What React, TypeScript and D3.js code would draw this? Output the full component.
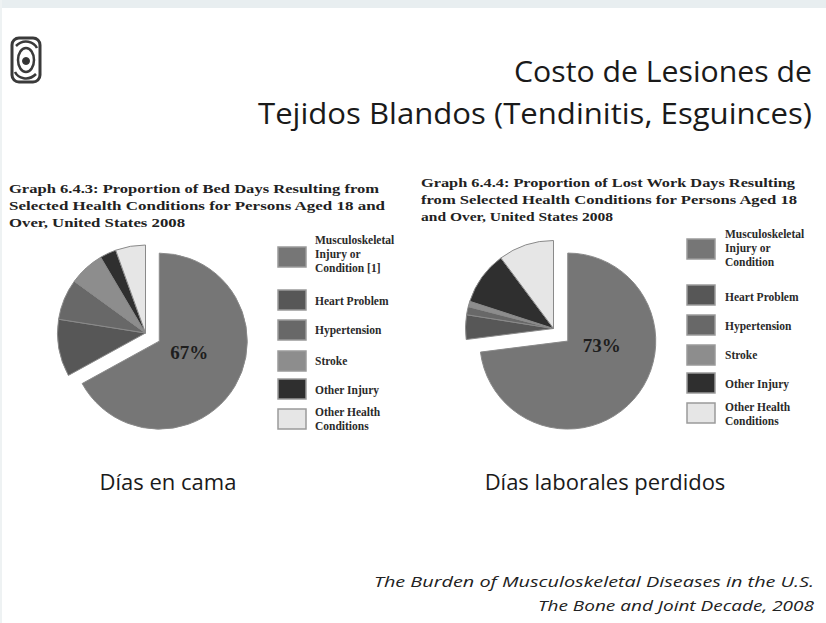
import React from "react";
import * as d3 from "d3";

const categories = [
  "Musculoskeletal Injury or Condition",
  "Heart Problem",
  "Hypertension",
  "Stroke",
  "Other Injury",
  "Other Health Conditions",
];
const bedDays = [67, 10.5, 7.5, 6.5, 3, 5.5];
const lostWorkDays = [73, 4.5, 1.5, 1, 9.8, 10.2];
const colors = ["#767676", "#575757", "#686868", "#8d8d8d", "#2f2f2f", "#e6e6e6"];

const legendLeft = [
  ["Musculoskeletal", "Injury or", "Condition [1]"],
  ["Heart Problem"],
  ["Hypertension"],
  ["Stroke"],
  ["Other Injury"],
  ["Other Health", "Conditions"],
];
const legendRight = [
  ["Musculoskeletal", "Injury or", "Condition"],
  ["Heart Problem"],
  ["Hypertension"],
  ["Stroke"],
  ["Other Injury"],
  ["Other Health", "Conditions"],
];
const titleLeft = [
  "Graph 6.4.3: Proportion of Bed Days Resulting from",
  "Selected Health Conditions for Persons Aged 18 and",
  "Over, United States 2008",
];
const titleRight = [
  "Graph 6.4.4: Proportion of Lost Work Days Resulting",
  "from Selected Health Conditions for Persons Aged 18",
  "and Over, United States 2008",
];

const serif = "'Liberation Serif', 'DejaVu Serif', serif";
const sans = "'Open Sans', 'Noto Sans', sans-serif";

function Pie({ values, cx, cy, r, explode, label, labelDx, labelDy }: any) {
  const pie = d3.pie<number>().sort(null).startAngle(0).endAngle(2 * Math.PI);
  const arcs = pie(values);
  const arc = d3.arc<any>().innerRadius(0).outerRadius(r);
  return (
    <g transform={`translate(${cx},${cy})`}>
      {arcs.map((a, i) => {
        let tx = 0, ty = 0;
        if (i === 0) {
          const mid = (a.startAngle + a.endAngle) / 2;
          tx = Math.sin(mid) * explode;
          ty = -Math.cos(mid) * explode;
        }
        return (
          <path
            key={i}
            d={arc(a) as string}
            transform={`translate(${tx},${ty})`}
            fill={colors[i]}
            stroke="#8a8a8a"
            strokeWidth={1}
          />
        );
      })}
      {(() => {
        const a = arcs[0];
        const mid = (a.startAngle + a.endAngle) / 2;
        const x = Math.sin(mid) * explode + labelDx;
        const y = -Math.cos(mid) * explode + labelDy;
        return (
          <text x={x} y={y} textAnchor="middle" fontFamily={serif} fontWeight="bold" fontSize={19} fill="#1e1e1e">
            {label}
          </text>
        );
      })()}
    </g>
  );
}

function Legend({ items, x, ys, textX, lineYs }: any) {
  return (
    <g>
      {items.map((lines: string[], i: number) => (
        <g key={i}>
          <rect x={x} y={ys[i]} width={28} height={20} fill={colors[i]} stroke="#9a9a9a" strokeWidth={1.5} />
          {lines.map((t, j) => (
            <text key={j} x={textX} y={lineYs[i] + j * 14} fontFamily={serif} fontWeight="bold" fontSize={11.5} fill="#2a2a2a">
              {t}
            </text>
          ))}
        </g>
      ))}
    </g>
  );
}

export default function App() {
  return (
    <svg width={826} height={623} style={{ position: "absolute", left: 0, top: 0, background: "#fff" }}>
      <rect x={0} y={0} width={826} height={8} fill="#e8eef0" />
      <rect x={0} y={0} width={2} height={623} fill="#eef2f3" />

      {/* logo */}
      <g transform="translate(26,60)" fill="none" stroke="#3a3a3a">
        <rect x={-14} y={-22} width={28} height={44} rx={7} strokeWidth={3} />
        <ellipse cx={0} cy={0} rx={8} ry={12} strokeWidth={2.5} />
        <circle cx={0} cy={1} r={3.5} fill="#333" strokeWidth={1} />
        <path d="M-10,-14 C-2,-22 8,-18 11,-12" strokeWidth={2.5} />
        <path d="M10,14 C2,22 -8,18 -11,12" strokeWidth={2.5} />
      </g>

      <text x={812} y={82} textAnchor="end" fontFamily={sans} fontSize={30} fill="#1a1a1a" textLength={298} lengthAdjust="spacingAndGlyphs">
        Costo de Lesiones de
      </text>
      <text x={812} y={124} textAnchor="end" fontFamily={sans} fontSize={30} fill="#1a1a1a" textLength={554} lengthAdjust="spacingAndGlyphs">
        Tejidos Blandos (Tendinitis, Esguinces)
      </text>

      {titleLeft.map((t, i) => (
        <text key={i} x={9} y={193 + i * 17} fontFamily={serif} fontWeight="bold" fontSize={13.5} fill="#222"
          textLength={i === 2 ? 176 : i === 0 ? 370 : 376} lengthAdjust="spacingAndGlyphs">
          {t}
        </text>
      ))}
      {titleRight.map((t, i) => (
        <text key={i} x={421} y={187 + i * 17} fontFamily={serif} fontWeight="bold" fontSize={13.5} fill="#222"
          textLength={i === 2 ? 192 : i === 0 ? 374 : 376} lengthAdjust="spacingAndGlyphs">
          {t}
        </text>
      ))}

      <Pie values={bedDays} cx={145.5} cy={333} r={88} explode={16} label="67%" labelDx={30} labelDy={18} />
      <Pie values={lostWorkDays} cx={553.5} cy={328.5} r={88} explode={19} label="73%" labelDx={34} labelDy={11} />

      <Legend items={legendLeft} x={278} ys={[247, 290, 320, 351, 379, 409]} textX={315}
        lineYs={[244, 305, 334, 365, 394, 416]} />
      <Legend items={legendRight} x={687} ys={[239, 285, 315, 345, 373, 403]} textX={725}
        lineYs={[238, 301, 330, 359, 388, 411]} />

      <text x={168} y={490} textAnchor="middle" fontFamily={sans} fontSize={22} fill="#1a1a1a">Días en cama</text>
      <text x={605} y={490} textAnchor="middle" fontFamily={sans} fontSize={22} fill="#1a1a1a">Días laborales perdidos</text>

      <text x={814} y={587} textAnchor="end" fontFamily={sans} fontStyle="italic" fontSize={15} fill="#222" textLength={440} lengthAdjust="spacingAndGlyphs">
        The Burden of Musculoskeletal Diseases in the U.S.
      </text>
      <text x={814} y={611} textAnchor="end" fontFamily={sans} fontStyle="italic" fontSize={15} fill="#222" textLength={276} lengthAdjust="spacingAndGlyphs">
        The Bone and Joint Decade, 2008
      </text>
    </svg>
  );
}
